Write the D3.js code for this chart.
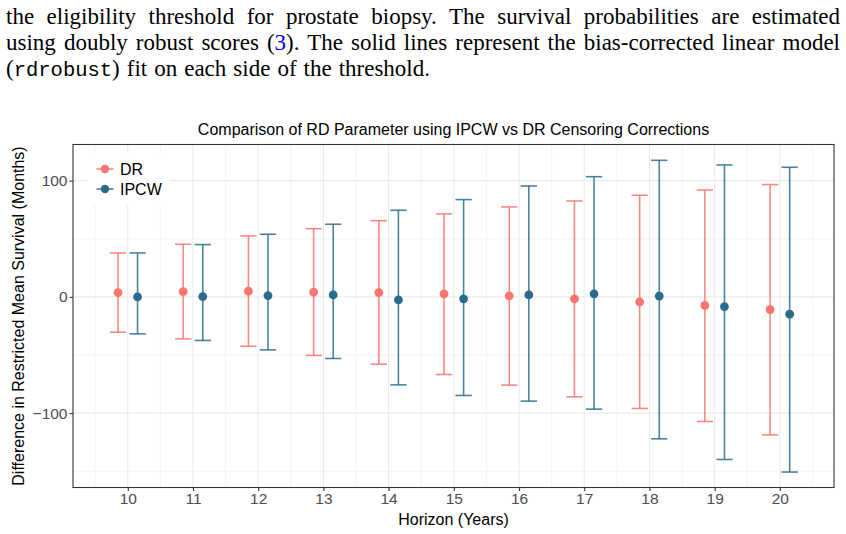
<!DOCTYPE html>
<html>
<head>
<meta charset="utf-8">
<script src="https://cdn.jsdelivr.net/npm/d3@7"></script>
<style>
  body { margin: 0; background: #fff; }
  svg text { font-family: "Liberation Sans", Arial, sans-serif; }
  svg .para text { font-family: "Liberation Serif", "DejaVu Serif", serif; font-size: 23px; fill: #000; }
  svg .para tspan.tt { font-family: "Liberation Mono", "DejaVu Sans Mono", monospace; font-size: 20.5px; }
</style>
</head>
<body>
<svg width="846" height="534"></svg>
<script>
// data
const horizons = [10, 11, 12, 13, 14, 15, 16, 17, 18, 19, 20]
const drEst   = [3.7, 4.6, 4.9, 4.0, 3.7, 2.6, 0.9, -1.7, -4.3, -7.4, -10.9]
const drLow   = [-30.4, -36.1, -42.4, -50.4, -57.9, -66.8, -75.9, -86.0, -96.0, -107.2, -118.7]
const drHigh  = [37.8, 45.3, 52.4, 58.7, 65.6, 71.4, 77.4, 82.5, 87.4, 92.0, 96.6]
const ipcwEst  = [0.0, 0.3, 1.1, 1.7, -2.6, -1.7, 1.7, 2.6, 0.6, -8.3, -14.9]
const ipcwLow  = [-31.8, -37.5, -45.6, -53.0, -75.7, -84.8, -89.7, -96.6, -122.1, -139.9, -150.7]
const ipcwHigh = [37.8, 45.0, 53.9, 62.5, 74.5, 83.7, 95.4, 103.4, 117.5, 113.5, 111.5]
const yTicks = [-100, 0, 100]
const yMinor = [-150, -50, 50]

const series = [
  {name: 'DR', color: '#F8766D', dodge: -0.15, est: drEst, lo: drLow, hi: drHigh},
  {name: 'IPCW', color: '#2B6C8C', dodge: 0.15, est: ipcwEst, lo: ipcwLow, hi: ipcwHigh}
]

const svg = d3.select('svg')

// paragraph text above the figure (justified by word spacing)
const para = svg.append('g').attr('class', 'para')
const l1 = para.append('text').attr('x', 6).attr('y', 23.5)
  .text('the eligibility threshold for prostate biopsy. The survival probabilities are estimated')
const l2 = para.append('text').attr('x', 6).attr('y', 49.5)
l2.append('tspan').text('using doubly robust scores (')
l2.append('tspan').attr('fill', '#0000ff').text('3')
l2.append('tspan').text('). The solid lines represent the bias-corrected linear model')
const l3 = para.append('text').attr('x', 6).attr('y', 75.5)
l3.append('tspan').text('(')
l3.append('tspan').attr('class', 'tt').text('rdrobust')
l3.append('tspan').text(') fit on each side of the threshold.')

function justify(t, width) {
  const n = t.node()
  const spaces = (n.textContent.match(/ /g) || []).length
  const extra = width - n.getComputedTextLength()
  t.attr('word-spacing', extra / spaces)
}
justify(l1, 834)
justify(l2, 834)
justify(l3, 424)

// panel
const panel = {left: 73, right: 834, top: 144.5, bottom: 487.5}
const x = d3.scaleLinear().domain([9.16, 20.83]).range([panel.left, panel.right])
const y = d3.scaleLinear().domain([-164, 131.1]).range([panel.bottom, panel.top])

const g = svg.append('g')

// grid
const xMinor = horizons.map(h => h - 0.5).concat([20.5])
g.selectAll('.xminor').data(xMinor).enter().append('line')
  .attr('x1', d => x(d)).attr('x2', d => x(d))
  .attr('y1', panel.top).attr('y2', panel.bottom)
  .attr('stroke', '#ebebeb').attr('stroke-width', 0.6)
g.selectAll('.yminor').data(yMinor).enter().append('line')
  .attr('x1', panel.left).attr('x2', panel.right)
  .attr('y1', d => y(d)).attr('y2', d => y(d))
  .attr('stroke', '#ebebeb').attr('stroke-width', 0.6)
g.selectAll('.xmajor').data(horizons).enter().append('line')
  .attr('x1', d => x(d)).attr('x2', d => x(d))
  .attr('y1', panel.top).attr('y2', panel.bottom)
  .attr('stroke', '#ebebeb').attr('stroke-width', 1.1)
g.selectAll('.ymajor').data(yTicks).enter().append('line')
  .attr('x1', panel.left).attr('x2', panel.right)
  .attr('y1', d => y(d)).attr('y2', d => y(d))
  .attr('stroke', '#ebebeb').attr('stroke-width', 1.1)

// legend background (drawn over grid)
const leg = svg.append('g')
leg.append('rect').attr('x', 87).attr('y', 153).attr('width', 83).attr('height', 52).attr('fill', '#fff')

// error bars and points
const capHalf = 0.125
series.forEach(s => {
  const sg = g.append('g')
  horizons.forEach((h, i) => {
    const cx = x(h + s.dodge)
    const eb = sg.append('g').attr('stroke', s.color).attr('stroke-width', 1.6).attr('stroke-opacity', 0.85)
    eb.append('line').attr('x1', cx).attr('x2', cx).attr('y1', y(s.lo[i])).attr('y2', y(s.hi[i]))
    eb.append('line').attr('x1', x(h + s.dodge - capHalf)).attr('x2', x(h + s.dodge + capHalf))
      .attr('y1', y(s.hi[i])).attr('y2', y(s.hi[i]))
    eb.append('line').attr('x1', x(h + s.dodge - capHalf)).attr('x2', x(h + s.dodge + capHalf))
      .attr('y1', y(s.lo[i])).attr('y2', y(s.lo[i]))
  })
  sg.selectAll('circle').data(s.est).enter().append('circle')
    .attr('cx', (d, i) => x(horizons[i] + s.dodge))
    .attr('cy', d => y(d))
    .attr('r', 4.4)
    .attr('fill', s.color)
})

// legend
series.forEach((s, i) => {
  const ly = 169 + i * 20
  leg.append('line').attr('x1', 96.5).attr('x2', 113.5).attr('y1', ly).attr('y2', ly)
    .attr('stroke', s.color).attr('stroke-width', 1.6).attr('stroke-opacity', 0.85)
  leg.append('circle').attr('cx', 105).attr('cy', ly).attr('r', 4.2).attr('fill', s.color)
  leg.append('text').attr('x', 120).attr('y', ly + 5.5).attr('font-size', 16).attr('fill', '#000').text(s.name)
})

// border
svg.append('rect')
  .attr('x', panel.left).attr('y', panel.top)
  .attr('width', panel.right - panel.left).attr('height', panel.bottom - panel.top)
  .attr('fill', 'none').attr('stroke', '#333').attr('stroke-width', 1.1)

// axes
const xAxis = svg.append('g').attr('transform', `translate(0,${panel.bottom})`)
  .call(d3.axisBottom(x).tickValues(horizons).tickSize(3.5).tickPadding(2).tickFormat(d3.format('d')))
const yAxis = svg.append('g').attr('transform', `translate(${panel.left},0)`)
  .call(d3.axisLeft(y).tickValues(yTicks).tickSize(3.5).tickPadding(2).tickFormat(d => d < 0 ? '\u2212' + Math.abs(d) : d))
;[xAxis, yAxis].forEach(a => {
  a.select('.domain').remove()
  a.selectAll('.tick line').attr('stroke', '#333').attr('stroke-width', 1.1)
  a.selectAll('.tick text')
    .style('font-family', '"Liberation Sans", Arial, sans-serif')
    .style('font-size', '15.5px')
    .attr('fill', '#4d4d4d')
})

// titles
svg.append('text').attr('x', (panel.left + panel.right) / 2).attr('y', 135)
  .attr('text-anchor', 'middle').attr('font-size', 16).attr('fill', '#000')
  .text('Comparison of RD Parameter using IPCW vs DR Censoring Corrections')
svg.append('text').attr('x', (panel.left + panel.right) / 2).attr('y', 525)
  .attr('text-anchor', 'middle').attr('font-size', 16).attr('fill', '#000')
  .text('Horizon (Years)')
svg.append('text')
  .attr('transform', `translate(24,${(panel.top + panel.bottom) / 2}) rotate(-90)`)
  .attr('text-anchor', 'middle').attr('font-size', 16).attr('fill', '#000')
  .text('Difference in Restricted Mean Survival (Months)')
</script>
</body>
</html>
